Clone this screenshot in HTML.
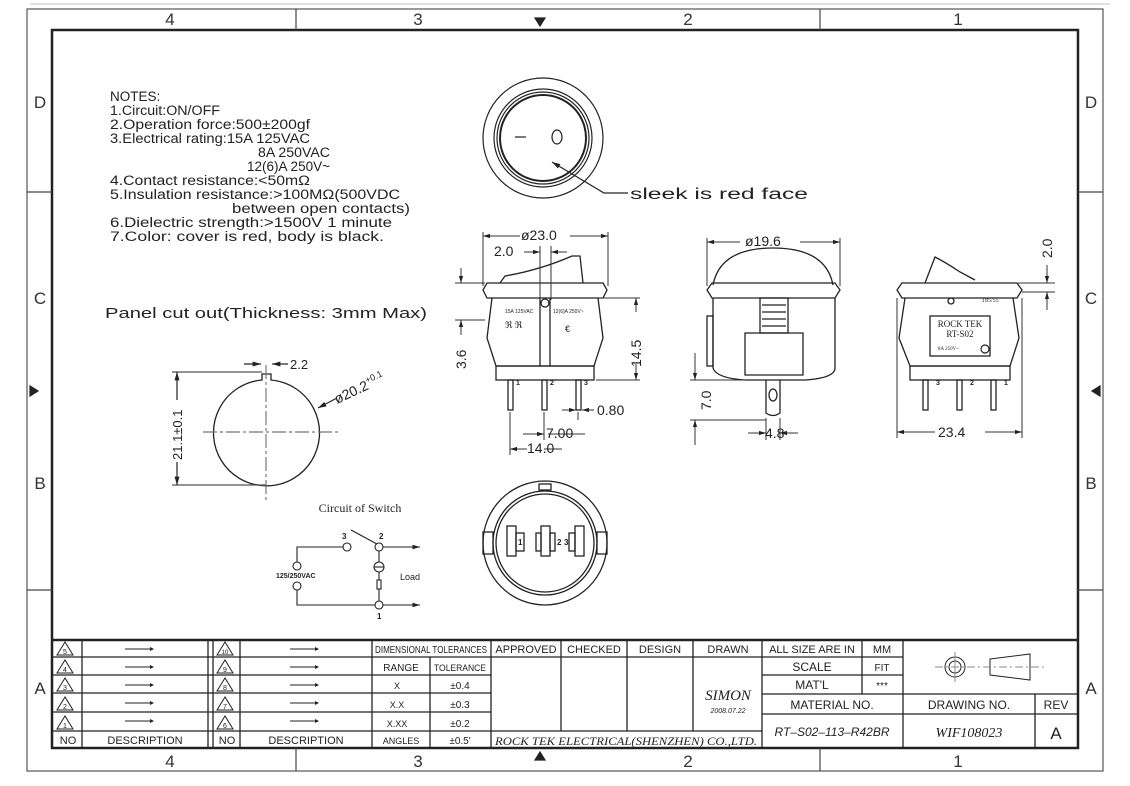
<!DOCTYPE html>
<html><head><meta charset="utf-8"><style>
html,body{margin:0;padding:0;background:#fff;}
svg{display:block;font-family:"Liberation Sans",sans-serif;}
</style></head><body>
<svg width="1130" height="786" viewBox="0 0 1130 786" xmlns="http://www.w3.org/2000/svg" fill="none" stroke="#222" stroke-width="1.2">
<defs>
<marker id="a" viewBox="0 0 10 10" refX="10" refY="5" markerWidth="7" markerHeight="7" orient="auto-start-reverse"><path d="M0,2 L10,5 L0,8 z" fill="#222" stroke="none"/></marker>
</defs>
<line x1="30" y1="4" x2="1110" y2="4" stroke="#ccc"/>
<rect x="27" y="9" width="1076" height="762" stroke="#555"/>
<rect x="52" y="30" width="1026" height="718" stroke-width="2.5"/>
<g stroke="#444">
<line x1="296" y1="9" x2="296" y2="30"/><line x1="820" y1="9" x2="820" y2="30"/>
<line x1="296" y1="748" x2="296" y2="771"/><line x1="820" y1="748" x2="820" y2="771"/>
<line x1="27" y1="192" x2="52" y2="192"/><line x1="27" y1="590" x2="52" y2="590"/>
<line x1="1078" y1="192" x2="1103" y2="192"/><line x1="1078" y1="590" x2="1103" y2="590"/>
</g>
<path d="M535,18 h10 l-5,8z M535,760 h10 l-5,-8z M30,386 v10 l8,-5z M1100,386 v10 l-8,-5z" fill="#222"/>
<g fill="#333" stroke="none" font-size="17" text-anchor="middle">
<text x="170" y="25">4</text><text x="418" y="25">3</text><text x="688" y="25">2</text><text x="958" y="25">1</text>
<text x="170" y="767">4</text><text x="418" y="767">3</text><text x="688" y="767">2</text><text x="958" y="767">1</text>
<text x="40" y="108">D</text><text x="40" y="304">C</text><text x="40" y="489">B</text><text x="40" y="694">A</text>
<text x="1091" y="108">D</text><text x="1091" y="304">C</text><text x="1091" y="489">B</text><text x="1091" y="694">A</text>
</g>
<!-- notes -->
<g fill="#222" stroke="none" font-size="13.5" lengthAdjust="spacingAndGlyphs">
<text x="110" y="101">NOTES:</text>
<text x="110" y="115" textLength="110" lengthAdjust="spacingAndGlyphs">1.Circuit:ON/OFF</text>
<text x="110" y="129" textLength="200" lengthAdjust="spacingAndGlyphs">2.Operation  force:500±200gf</text>
<text x="110" y="143" textLength="200" lengthAdjust="spacingAndGlyphs">3.Electrical  rating:15A  125VAC</text>
<text x="258" y="157" textLength="72" lengthAdjust="spacingAndGlyphs">8A  250VAC</text>
<text x="247" y="171" textLength="83" lengthAdjust="spacingAndGlyphs">12(6)A  250V~</text>
<text x="110" y="185" textLength="200" lengthAdjust="spacingAndGlyphs">4.Contact  resistance:&lt;50mΩ</text>
<text x="110" y="199" textLength="290" lengthAdjust="spacingAndGlyphs">5.Insulation  resistance:&gt;100MΩ(500VDC</text>
<text x="232" y="213" textLength="178" lengthAdjust="spacingAndGlyphs">between  open  contacts)</text>
<text x="110" y="227" textLength="282" lengthAdjust="spacingAndGlyphs">6.Dielectric  strength:&gt;1500V  1  minute</text>
<text x="110" y="241" textLength="274" lengthAdjust="spacingAndGlyphs">7.Color:  cover  is  red,  body  is  black.</text>
<text x="105" y="318" font-size="15" textLength="322" lengthAdjust="spacingAndGlyphs">Panel  cut  out(Thickness:  3mm  Max)</text>
<text x="360" y="512" font-size="12" font-family="Liberation Serif,serif" text-anchor="middle">Circuit  of  Switch</text>
<text x="630" y="199" font-size="15.5" textLength="178" lengthAdjust="spacingAndGlyphs">sleek  is  red  face</text>
</g>
<!-- top view -->
<circle cx="543" cy="138" r="60"/><circle cx="543" cy="138" r="49"/><circle cx="543" cy="138" r="46"/><circle cx="543" cy="138" r="43" stroke-width="2"/>
<line x1="515" y1="137" x2="526" y2="137"/><ellipse cx="557" cy="137" rx="5" ry="7"/>
<polyline points="552,162 604,193 628,193" marker-start="url(#a)"/>
<!-- panel cutout -->
<path d="M262,380 A53,53 0 1 0 271,380 V374 H262 Z" stroke-width="1.3"/>
<g stroke="#777" stroke-dasharray="14,3,3,3"><line x1="266" y1="365" x2="266" y2="500"/><line x1="203" y1="432" x2="338" y2="432"/></g>
<line x1="172" y1="372" x2="262" y2="372" stroke="#555"/><line x1="172" y1="485" x2="266" y2="485" stroke="#555"/>
<line x1="177" y1="372" x2="177" y2="400" marker-start="url(#a)"/><line x1="177" y1="462" x2="177" y2="485" marker-end="url(#a)"/>
<g fill="#222" stroke="none" font-size="13"><text transform="translate(182,460) rotate(-90)">21.1±0.1</text>
<text x="290" y="369">2.2</text><text transform="translate(337,404) rotate(-25)" font-size="14">ø20.2<tspan font-size="9" dy="-6">+0.1</tspan></text></g>
<line x1="244" y1="364" x2="261" y2="364" marker-end="url(#a)"/><line x1="288" y1="364" x2="272" y2="364" marker-end="url(#a)"/>
<line x1="337" y1="398" x2="318" y2="408" marker-end="url(#a)"/>
<!-- circuit -->
<g stroke-width="1.1">
<circle cx="347" cy="547" r="4"/><circle cx="379" cy="547" r="4"/><circle cx="379" cy="605" r="4"/>
<circle cx="297" cy="566" r="4"/><circle cx="297" cy="586" r="4"/>
<polyline points="343,547 297,547 297,562"/><polyline points="297,590 297,605 375,605"/>
<line x1="351" y1="530" x2="377" y2="544"/>
<line x1="383" y1="547" x2="420" y2="547" marker-end="url(#a)"/><line x1="383" y1="605" x2="420" y2="605" marker-end="url(#a)"/>
<line x1="379" y1="551" x2="379" y2="562"/><ellipse cx="379" cy="567" rx="5" ry="5"/><line x1="374" y1="567" x2="384" y2="567"/>
<line x1="379" y1="572" x2="379" y2="580"/><rect x="377" y="580" width="4" height="9"/><line x1="379" y1="589" x2="379" y2="601"/>
</g>
<g fill="#222" stroke="none" font-size="8" font-weight="bold"><text x="342" y="539">3</text><text x="379" y="539">2</text><text x="377" y="619">1</text>
<text x="276" y="578" font-size="7">125/250VAC</text><text x="400" y="580" font-size="9" font-weight="normal">Load</text></g>
<!-- front view -->
<g stroke-width="1.3">
<path d="M500,283 L505,276 Q540,270 572,256 L580,256 L583,283"/>
<path d="M483,290 L487,283 H603 L607,290 L603,298 H487 Z"/>
<path d="M492,298 L487,338 L496,366 H594 L603,338 L598,298"/>
<rect x="496" y="366" width="98" height="14"/>
<line x1="540" y1="298" x2="540" y2="366"/><line x1="550" y1="298" x2="550" y2="366"/><circle cx="545" cy="303" r="4"/>
<rect x="508" y="380" width="5" height="30"/><rect x="542" y="380" width="5" height="30"/><rect x="576" y="380" width="5" height="30"/>
</g>
<g fill="#222" stroke="none" font-size="5"><text x="505" y="313">15A 125VAC</text><text x="553" y="313">12(6)A 250V~</text><text x="505" y="328" font-size="9">ℜ ℜ</text><text x="565" y="332" font-size="9">€</text>
<text x="516" y="385" font-size="7" font-weight="bold">1</text><text x="550" y="385" font-size="7" font-weight="bold">2</text><text x="584" y="385" font-size="7" font-weight="bold">3</text></g>
<!-- front dims -->
<g stroke="#333" stroke-width="1">
<line x1="483" y1="232" x2="483" y2="286"/><line x1="608" y1="232" x2="608" y2="286"/>
<line x1="520" y1="236" x2="483" y2="236" marker-end="url(#a)"/><line x1="570" y1="236" x2="608" y2="236" marker-end="url(#a)"/>
<line x1="524" y1="252" x2="540" y2="252" marker-end="url(#a)"/><line x1="567" y1="252" x2="551" y2="252" marker-end="url(#a)"/>
<line x1="540" y1="246" x2="540" y2="300"/><line x1="551" y1="246" x2="551" y2="300"/>
<line x1="455" y1="283" x2="485" y2="283"/><line x1="455" y1="320" x2="485" y2="320"/>
<line x1="461" y1="268" x2="461" y2="283" marker-end="url(#a)"/><line x1="461" y1="335" x2="461" y2="320" marker-end="url(#a)"/>
<line x1="598" y1="298" x2="640" y2="298"/><line x1="596" y1="380" x2="640" y2="380"/>
<line x1="636" y1="312" x2="636" y2="298" marker-end="url(#a)"/><line x1="636" y1="364" x2="636" y2="380" marker-end="url(#a)"/>
<line x1="510" y1="412" x2="510" y2="455"/><line x1="544" y1="412" x2="544" y2="440"/><line x1="578" y1="412" x2="578" y2="420"/>
<line x1="523" y1="434" x2="544" y2="434" marker-end="url(#a)"/><line x1="585" y1="434" x2="548" y2="434"/>
<line x1="527" y1="449" x2="510" y2="449" marker-end="url(#a)"/><line x1="562" y1="449" x2="544" y2="449"/>
<line x1="562" y1="410" x2="576" y2="410" marker-end="url(#a)"/><line x1="594" y1="410" x2="582" y2="410" marker-end="url(#a)"/>
</g>
<g fill="#222" stroke="none" font-size="14"><text x="521" y="240">ø23.0</text><text x="494" y="256">2.0</text>
<text transform="translate(466,369) rotate(-90)">3.6</text><text transform="translate(641,367) rotate(-90)">14.5</text>
<text x="597" y="415">0.80</text><text x="546" y="438">7.00</text><text x="527" y="453">14.0</text></g>
<!-- side view -->
<g stroke-width="1.3">
<path d="M713,285 Q720,248 773,248 Q826,248 833,285"/>
<path d="M707,290 L712,283 H835 L840,290 L835,298 H712 Z"/>
<path d="M713,298 V368 Q716,378 745,380 H805 Q835,378 835,368 V298"/>
<rect x="707" y="316" width="6" height="50"/>
<rect x="760" y="298" width="28" height="35"/><path d="M745,333 H803 V375 H745 Z"/>
<line x1="762" y1="305" x2="786" y2="305"/><line x1="762" y1="312" x2="786" y2="312"/><line x1="762" y1="319" x2="786" y2="319"/><line x1="762" y1="326" x2="786" y2="326"/>
<path d="M766,380 V413 Q773,418 780,413 V380"/><ellipse cx="773" cy="395" rx="4" ry="6"/>
</g>
<g stroke="#333" stroke-width="1">
<line x1="707" y1="238" x2="707" y2="286"/><line x1="840" y1="238" x2="840" y2="286"/>
<line x1="740" y1="242" x2="707" y2="242" marker-end="url(#a)"/><line x1="800" y1="242" x2="840" y2="242" marker-end="url(#a)"/>
<line x1="690" y1="380" x2="745" y2="380"/><line x1="690" y1="420" x2="766" y2="420"/>
<line x1="695" y1="353" x2="695" y2="380" marker-end="url(#a)"/><line x1="695" y1="445" x2="695" y2="420" marker-end="url(#a)"/>
<line x1="766" y1="418" x2="766" y2="440"/><line x1="780" y1="418" x2="780" y2="440"/>
<line x1="748" y1="433" x2="766" y2="433" marker-end="url(#a)"/><line x1="798" y1="433" x2="780" y2="433" marker-end="url(#a)"/>
</g>
<g fill="#222" stroke="none" font-size="14"><text x="745" y="246">ø19.6</text><text transform="translate(711,410) rotate(-90)">7.0</text><text x="765" y="438">4.8</text></g>
<!-- right view -->
<g stroke-width="1.3">
<path d="M925,283 L935,257 Q945,262 960,272 L975,280"/>
<path d="M897,290 L902,283 H1017 L1022,290 L1017,298 H902 Z"/>
<path d="M905,298 L899,338 L910,366 H1010 L1019,338 L1013,298"/>
<rect x="910" y="366" width="100" height="14"/>
<rect x="930" y="316" width="60" height="40"/><circle cx="951" cy="301" r="3"/>
<rect x="923" y="380" width="5" height="30"/><rect x="957" y="380" width="5" height="30"/><rect x="991" y="380" width="5" height="30"/>
</g>
<g fill="#222" stroke="none" font-family="Liberation Serif,serif" font-size="9" text-anchor="middle">
<text x="960" y="327">ROCK TEK</text><text x="960" y="337">RT-S02</text><text x="938" y="350" font-size="5" text-anchor="start">8A 250V~</text><text x="990" y="302" font-size="6">T85/55</text>
<text x="938" y="385" font-size="7" font-weight="bold" font-family="Liberation Sans">3</text><text x="972" y="385" font-size="7" font-weight="bold" font-family="Liberation Sans">2</text><text x="1006" y="385" font-size="7" font-weight="bold" font-family="Liberation Sans">1</text></g>
<circle cx="985" cy="349" r="4"/>
<g stroke="#333" stroke-width="1">
<line x1="1018" y1="283" x2="1055" y2="283"/><line x1="1022" y1="292" x2="1055" y2="292"/>
<line x1="1047" y1="265" x2="1047" y2="283" marker-end="url(#a)"/><line x1="1047" y1="310" x2="1047" y2="292" marker-end="url(#a)"/>
<line x1="897" y1="298" x2="897" y2="438"/><line x1="1022" y1="298" x2="1022" y2="438"/>
<line x1="935" y1="432" x2="897" y2="432" marker-end="url(#a)"/><line x1="985" y1="432" x2="1022" y2="432" marker-end="url(#a)"/>
</g>
<g fill="#222" stroke="none" font-size="14"><text transform="translate(1052,258) rotate(-90)">2.0</text><text x="938" y="437">23.4</text></g>
<!-- bottom view -->
<g stroke-width="1.3">
<circle cx="545" cy="543" r="62"/><circle cx="545" cy="543" r="52"/><circle cx="545" cy="543" r="49"/>
<rect x="539" y="484" width="12" height="6"/>
<rect x="483" y="532" width="10" height="22"/><rect x="597" y="532" width="10" height="22"/>
<rect x="507" y="526" width="9" height="30"/><rect x="516" y="533" width="8" height="18"/>
<rect x="541" y="526" width="9" height="30"/><rect x="536" y="533" width="5" height="18"/><rect x="550" y="533" width="5" height="18"/>
<rect x="575" y="526" width="9" height="30"/><rect x="569" y="533" width="6" height="18"/>
</g>
<g fill="#222" stroke="none" font-size="8" font-weight="bold"><text x="518" y="545">1</text><text x="557" y="545">2</text><text x="564" y="545">3</text></g>
<!-- title block -->
<g stroke-width="1.3">
<line x1="52" y1="640" x2="1078" y2="640" stroke-width="2.5"/>
<line x1="52" y1="657" x2="491" y2="657"/><line x1="52" y1="675" x2="491" y2="675"/><line x1="52" y1="693" x2="491" y2="693"/><line x1="52" y1="712" x2="491" y2="712"/><line x1="52" y1="731" x2="762" y2="731"/>
<line x1="491" y1="657" x2="762" y2="657"/>
<line x1="762" y1="657" x2="903" y2="657"/><line x1="762" y1="675" x2="903" y2="675"/><line x1="762" y1="694" x2="1078" y2="694"/><line x1="762" y1="714" x2="1078" y2="714"/>
<line x1="82" y1="640" x2="82" y2="748"/><line x1="208" y1="640" x2="208" y2="748"/><line x1="213" y1="640" x2="213" y2="748"/>
<line x1="240" y1="640" x2="240" y2="748"/><line x1="372" y1="640" x2="372" y2="748"/><line x1="430" y1="657" x2="430" y2="748"/>
<line x1="491" y1="640" x2="491" y2="748"/><line x1="561" y1="640" x2="561" y2="731"/><line x1="627" y1="640" x2="627" y2="731"/>
<line x1="693" y1="640" x2="693" y2="731"/><line x1="762" y1="640" x2="762" y2="748"/><line x1="862" y1="640" x2="862" y2="694"/>
<line x1="903" y1="640" x2="903" y2="748"/><line x1="1035" y1="694" x2="1035" y2="748"/>
</g>
<g stroke-width="1" fill="none">
<path d="M57,655 l8,-13 l8,13z M57,673 l8,-13 l8,13z M57,691 l8,-13 l8,13z M57,710 l8,-13 l8,13z M57,729 l8,-13 l8,13z"/>
<path d="M217,655 l8,-13 l8,13z M217,673 l8,-13 l8,13z M217,691 l8,-13 l8,13z M217,710 l8,-13 l8,13z M217,729 l8,-13 l8,13z"/>
<path d="M125,649 h25 M125,667 h25 M125,685 h25 M125,703 h25 M125,721 h25 M290,649 h25 M290,667 h25 M290,685 h25 M290,703 h25 M290,721 h25"/>
<circle cx="955" cy="667" r="10"/><circle cx="955" cy="667" r="6"/>
<path d="M990,659 L1030,654 V680 L990,675 Z"/>
<path d="M935,667 H1045" stroke="#888" stroke-dasharray="8,3,2,3"/><path d="M955,652 V682" stroke="#888"/>
</g>
<g fill="#222" stroke="none" font-size="7" text-anchor="middle"><text x="65" y="654">5</text><text x="65" y="672">4</text><text x="65" y="690">3</text><text x="65" y="709">2</text><text x="65" y="728">1</text>
<text x="225" y="654" font-size="6">10</text><text x="225" y="672">9</text><text x="225" y="690">8</text><text x="225" y="709">7</text><text x="225" y="728">6</text>
<path d="M150,647 l4,2 l-4,2z M315,647 l4,2 l-4,2z M150,665 l4,2 l-4,2z M315,665 l4,2 l-4,2z M150,683 l4,2 l-4,2z M315,683 l4,2 l-4,2z M150,701 l4,2 l-4,2z M315,701 l4,2 l-4,2z M150,719 l4,2 l-4,2z M315,719 l4,2 l-4,2z"/>
</g>
<g fill="#222" stroke="none" font-size="11" text-anchor="middle">
<text x="68" y="744">NO</text><text x="145" y="744">DESCRIPTION</text><text x="227" y="744">NO</text><text x="306" y="744">DESCRIPTION</text>
<text x="431" y="653" font-size="10" textLength="112" lengthAdjust="spacingAndGlyphs">DIMENSIONAL TOLERANCES</text>
<text x="401" y="671" font-size="10">RANGE</text><text x="460" y="671" font-size="9" textLength="52" lengthAdjust="spacingAndGlyphs">TOLERANCE</text>
<text x="397" y="689" font-size="9">X</text><text x="460" y="689" font-size="10">±0.4</text>
<text x="397" y="708" font-size="9">X.X</text><text x="460" y="708" font-size="10">±0.3</text>
<text x="397" y="727" font-size="9">X.XX</text><text x="460" y="727" font-size="10">±0.2</text>
<text x="401" y="744" font-size="9">ANGLES</text><text x="460" y="744" font-size="10">±0.5'</text>
<text x="526" y="653">APPROVED</text><text x="594" y="653">CHECKED</text><text x="660" y="653">DESIGN</text><text x="728" y="653">DRAWN</text>
<text x="812" y="653" font-size="11">ALL SIZE ARE IN</text><text x="882" y="653">MM</text>
<text x="812" y="671" font-size="12">SCALE</text><text x="882" y="671" font-size="10">FIT</text>
<text x="812" y="689" font-size="12">MAT'L</text><text x="882" y="689" font-size="10">***</text>
<text x="832" y="709" font-size="12">MATERIAL  NO.</text><text x="969" y="709" font-size="12">DRAWING NO.</text><text x="1056" y="709" font-size="12">REV</text>
<text x="728" y="700" font-size="15" font-style="italic" font-family="Liberation Serif,serif">SIMON</text>
<text x="728" y="713" font-size="7" font-style="italic">2008.07.22</text>
<text x="626" y="745" font-size="12" font-style="italic" font-family="Liberation Serif,serif" textLength="262" lengthAdjust="spacingAndGlyphs">ROCK TEK ELECTRICAL(SHENZHEN) CO.,LTD.</text>
<text x="832" y="736" font-size="12" font-style="italic">RT–S02–113–R42BR</text>
<text x="969" y="737" font-size="14" font-style="italic" font-family="Liberation Serif,serif">WIF108023</text>
<text x="1056" y="739" font-size="17">A</text>
</g>
</svg>
</body></html>
